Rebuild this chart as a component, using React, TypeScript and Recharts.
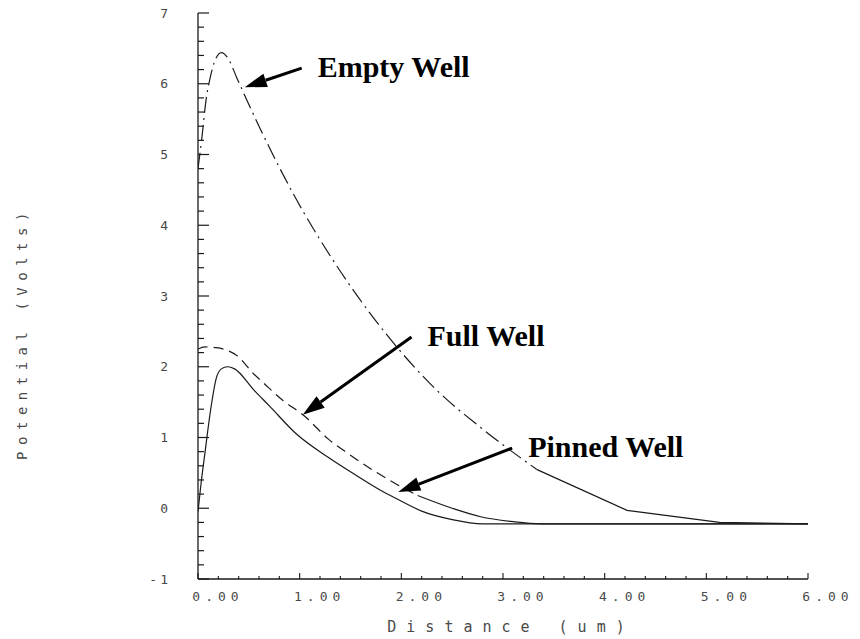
import { LineChart, Line, XAxis, YAxis, ReferenceLine, Label } from 'recharts'

// distance (um) / potential (V)
const emptyX = [0, 0.04, 0.08, 0.11, 0.16, 0.23, 0.3, 0.38, 0.62, 1.04, 1.19, 1.83, 2.34, 2.79, 3.33, 4.22, 5.13, 6]
const emptyV = [4.8, 5.26, 5.78, 6.02, 6.3, 6.44, 6.35, 6.09, 5.34, 4.18, 3.82, 2.5, 1.68, 1.13, 0.55, -0.03, -0.2, -0.22]

const fullX = [0, 0.07, 0.18, 0.29, 0.39, 0.54, 0.66, 0.83, 1.05, 1.28, 1.48, 1.74, 1.94, 2.16, 2.5, 2.78, 3.1, 3.37, 6]
const fullV = [2.25, 2.28, 2.27, 2.23, 2.15, 1.91, 1.75, 1.53, 1.3, 0.98, 0.77, 0.52, 0.35, 0.18, 0.0, -0.12, -0.19, -0.22, -0.22]

const pinnedX = [0, 0.03, 0.07, 0.12, 0.18, 0.23, 0.29, 0.36, 0.55, 0.7, 0.96, 1.28, 1.55, 1.8, 2.0, 2.2, 2.5, 2.8, 6]
const pinnedV = [-0.05, 0.35, 0.8, 1.35, 1.84, 1.97, 2.0, 1.97, 1.67, 1.45, 1.06, 0.72, 0.47, 0.25, 0.1, -0.04, -0.16, -0.22, -0.22]

const xTickValues = [0, 1, 2, 3, 4, 5, 6]
const xTickLabels = ['0.00', '1.00', '2.00', '3.00', '4.00', '5.00', '6.00']
const yTickValues = [-1, 0, 1, 2, 3, 4, 5, 6, 7]
const yTickLabels = ['-1', '0', '1', '2', '3', '4', '5', '6', '7']

// where the plotter switched from broken to solid pen
const emptySolidFrom = 3.33
const fullSolidFrom = 2.16

const toPoints = (xs: number[], vs: number[]) => xs.map((x, i) => ({ x, v: vs[i] }))
const emptyData = toPoints(emptyX, emptyV)
const fullData = toPoints(fullX, fullV)
const pinnedData = toPoints(pinnedX, pinnedV)

const W = 860
const H = 639
const Y_AXIS_W = 198
const X_AXIS_H = 60
const MARGIN = { top: 13, right: 52, bottom: 0, left: 0 }
const AXIS_X = MARGIN.left + Y_AXIS_W
const AXIS_Y = H - MARGIN.bottom - X_AXIS_H

const INK = '#1a1a1a'
const PLOT_TEXT = '#4a4a4a'
const PLOT_FONT = '"DejaVu Sans Mono", monospace'

const minorY = Array.from({ length: 41 }, (_, i) => Math.round((-1 + i * 0.2) * 10) / 10)
const minorX = Array.from({ length: 31 }, (_, i) => Math.round(i * 0.2 * 10) / 10)

const isMajor = (v: number) => Math.abs(v - Math.round(v)) < 1e-6

function YTick(props: any) {
  const { y, payload } = props
  const v = payload.value
  const major = isMajor(v)
  const idx = yTickValues.indexOf(Math.round(v))
  return (
    <g>
      <line x1={AXIS_X} x2={AXIS_X + (major ? 11 : 6)} y1={y} y2={y} stroke={INK} strokeWidth={1.2} />
      {major && idx >= 0 && (
        <text
          x={AXIS_X - 27}
          y={y}
          textAnchor="end"
          dominantBaseline="central"
          fontFamily={PLOT_FONT}
          fontSize={13}
          letterSpacing={3}
          fill={PLOT_TEXT}
        >
          {yTickLabels[idx]}
        </text>
      )}
    </g>
  )
}

function XTick(props: any) {
  const { x, payload } = props
  const v = payload.value
  const major = isMajor(v)
  const idx = xTickValues.indexOf(Math.round(v))
  return (
    <g>
      <line x1={x} x2={x} y1={AXIS_Y} y2={AXIS_Y - (major ? 6 : 3)} stroke={INK} strokeWidth={1.1} />
      {major && idx >= 0 && (
        <text
          x={x + 20}
          y={AXIS_Y + 17}
          textAnchor="middle"
          dominantBaseline="central"
          fontFamily={PLOT_FONT}
          fontSize={13}
          letterSpacing={5}
          fill={PLOT_TEXT}
        >
          {xTickLabels[idx]}
        </text>
      )}
    </g>
  )
}

// arrow + bold caption, tail at (x1,y1), head at (x2,y2)
function arrowShape(text: string) {
  return (p: any) => {
    const { x1, y1, x2, y2 } = p
    const dx = x2 - x1
    const dy = y2 - y1
    const len = Math.sqrt(dx * dx + dy * dy)
    const ux = dx / len
    const uy = dy / len
    const headL = 22
    const headW = 7
    const bx = x2 - ux * headL
    const by = y2 - uy * headL
    const pts = `${x2},${y2} ${bx - uy * headW},${by + ux * headW} ${bx + uy * headW},${by - ux * headW}`
    return (
      <g>
        <line x1={x1} y1={y1} x2={bx} y2={by} stroke="#000" strokeWidth={3} />
        <polygon points={pts} fill="#000" />
        <text
          x={x1 + 16}
          y={y1 + 9}
          fontFamily='"Liberation Serif", "Times New Roman", serif'
          fontWeight="bold"
          fontSize={30}
          fill="#000"
        >
          {text}
        </text>
      </g>
    )
  }
}

export default function App() {
  return (
    <div style={{ position: 'absolute', left: 0, top: 0, width: W, height: H, background: '#fff' }}>
      <LineChart width={W} height={H} margin={MARGIN}>
        <XAxis
          type="number"
          dataKey="x"
          domain={[0, 6]}
          ticks={minorX}
          interval={0}
          allowDataOverflow
          height={X_AXIS_H}
          tickLine={false}
          axisLine={{ stroke: INK, strokeWidth: 1.3 }}
          tick={<XTick />}
        >
          <Label
            content={(lp: any) => {
              const vb = lp.viewBox
              return (
                <text
                  x={vb.x + vb.width / 2 + 8}
                  y={vb.y + 48}
                  textAnchor="middle"
                  dominantBaseline="central"
                  fontFamily={PLOT_FONT}
                  fontSize={15}
                  letterSpacing={10}
                  fill={PLOT_TEXT}
                >
                  Distance (um)
                </text>
              )
            }}
          />
        </XAxis>
        <YAxis
          type="number"
          dataKey="v"
          domain={[-1, 7]}
          ticks={minorY}
          interval={0}
          allowDataOverflow
          width={Y_AXIS_W}
          tickLine={false}
          axisLine={{ stroke: INK, strokeWidth: 1.3 }}
          tick={<YTick />}
        >
          <Label
            content={(lp: any) => {
              const vb = lp.viewBox
              const cx = 22
              const cy = vb.y + vb.height / 2 + 37
              return (
                <text
                  x={cx}
                  y={cy}
                  transform={`rotate(-90 ${cx} ${cy})`}
                  textAnchor="middle"
                  dominantBaseline="central"
                  fontFamily={PLOT_FONT}
                  fontSize={14}
                  letterSpacing={6.5}
                  fill={PLOT_TEXT}
                >
                  Potential (Volts)
                </text>
              )
            }}
          />
        </YAxis>

        <Line
          data={emptyData.filter((d) => d.x <= emptySolidFrom)}
          dataKey="v"
          type="monotone"
          stroke={INK}
          strokeWidth={1.2}
          strokeDasharray="16 5 2 5"
          dot={false}
          isAnimationActive={false}
        />
        <Line
          data={emptyData.filter((d) => d.x >= emptySolidFrom)}
          dataKey="v"
          type="linear"
          stroke={INK}
          strokeWidth={1.2}
          dot={false}
          isAnimationActive={false}
        />
        <Line
          data={fullData.filter((d) => d.x <= fullSolidFrom)}
          dataKey="v"
          type="monotone"
          stroke={INK}
          strokeWidth={1.2}
          strokeDasharray="10 6"
          dot={false}
          isAnimationActive={false}
        />
        <Line
          data={fullData.filter((d) => d.x >= fullSolidFrom)}
          dataKey="v"
          type="monotone"
          stroke={INK}
          strokeWidth={1.2}
          dot={false}
          isAnimationActive={false}
        />
        <Line
          data={pinnedData}
          dataKey="v"
          type="monotone"
          stroke={INK}
          strokeWidth={1.2}
          dot={false}
          isAnimationActive={false}
        />

        <ReferenceLine
          segment={[{ x: 1.02, y: 6.22 }, { x: 0.46, y: 5.95 }]}
          shape={arrowShape('Empty Well')}
        />
        <ReferenceLine
          segment={[{ x: 2.1, y: 2.42 }, { x: 1.03, y: 1.32 }]}
          shape={arrowShape('Full Well')}
        />
        <ReferenceLine
          segment={[{ x: 3.09, y: 0.85 }, { x: 1.97, y: 0.23 }]}
          shape={arrowShape('Pinned Well')}
        />
      </LineChart>
    </div>
  )
}
